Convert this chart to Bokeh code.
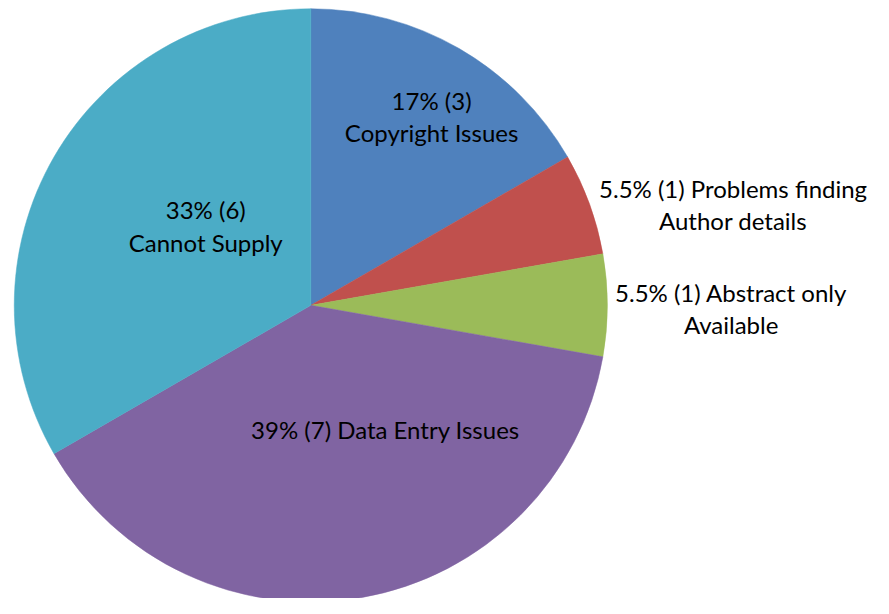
import math
from bokeh.plotting import figure
from bokeh.models import Range1d, ColumnDataSource
from bokeh.core.properties import value
from bokeh.embed import file_html
from bokeh.resources import INLINE

# Data
categories = ["Copyright Issues", "Problems finding Author details", "Abstract only Available",
              "Data Entry Issues", "Cannot Supply"]
counts = [3, 1, 1, 7, 6]
percent_labels = ["17%", "5.5%", "5.5%", "39%", "33%"]
colors = ["#4F81BD", "#C0504D", "#9BBB59", "#8064A2", "#4BACC6"]

# label lines (text) and their anchors (reference pixel layout)
label_lines = [
    ["17% (3)", "Copyright Issues"],
    ["5.5% (1) Problems finding", "Author details"],
    ["5.5% (1) Abstract only", "Available"],
    ["39% (7) Data Entry Issues"],
    ["33% (6)", "Cannot Supply"],
]
label_centers = [(439, 103), (746, 193), (744, 300), (392, 440), (209, 215)]
line_gap = 33

# drawing space in reference pixels
RW, RH = 889, 614
CX, CY, R = 316, RH - 313, 302

W, H = 873, 598

total = sum(counts)
starts, ends = [], []
a = math.pi / 2
for c in counts:
    s = a
    e = a - 2 * math.pi * c / total
    starts.append(s)
    ends.append(e)
    a = e

src = ColumnDataSource(dict(x=[CX] * len(counts), y=[CY] * len(counts),
                            start=starts, end=ends, color=colors, cat=categories))

p = figure(width=W, height=H, output_backend="svg", toolbar_location=None,
           x_range=Range1d(0, RW), y_range=Range1d(0, RH), min_border=0)
p.axis.visible = False
p.grid.visible = False
p.outline_line_color = None
p.background_fill_color = "white"
p.border_fill_color = "white"

p.wedge(x="x", y="y", radius=R, start_angle="start", end_angle="end",
        direction="clock", fill_color="color", line_color="color", line_width=0.5, source=src)

tx, ty, tt = [], [], []
for lines, (px, py) in zip(label_lines, label_centers):
    for i, t in enumerate(lines):
        tx.append(px)
        ty.append(RH - (py + i * line_gap))
        tt.append(t)

p.text(x=tx, y=ty, text=tt, text_align="center", text_baseline="middle",
       text_font=value("Lato"), text_font_size="24px", text_color="#000000")

open("out.html", "w").write(file_html(p, INLINE))
